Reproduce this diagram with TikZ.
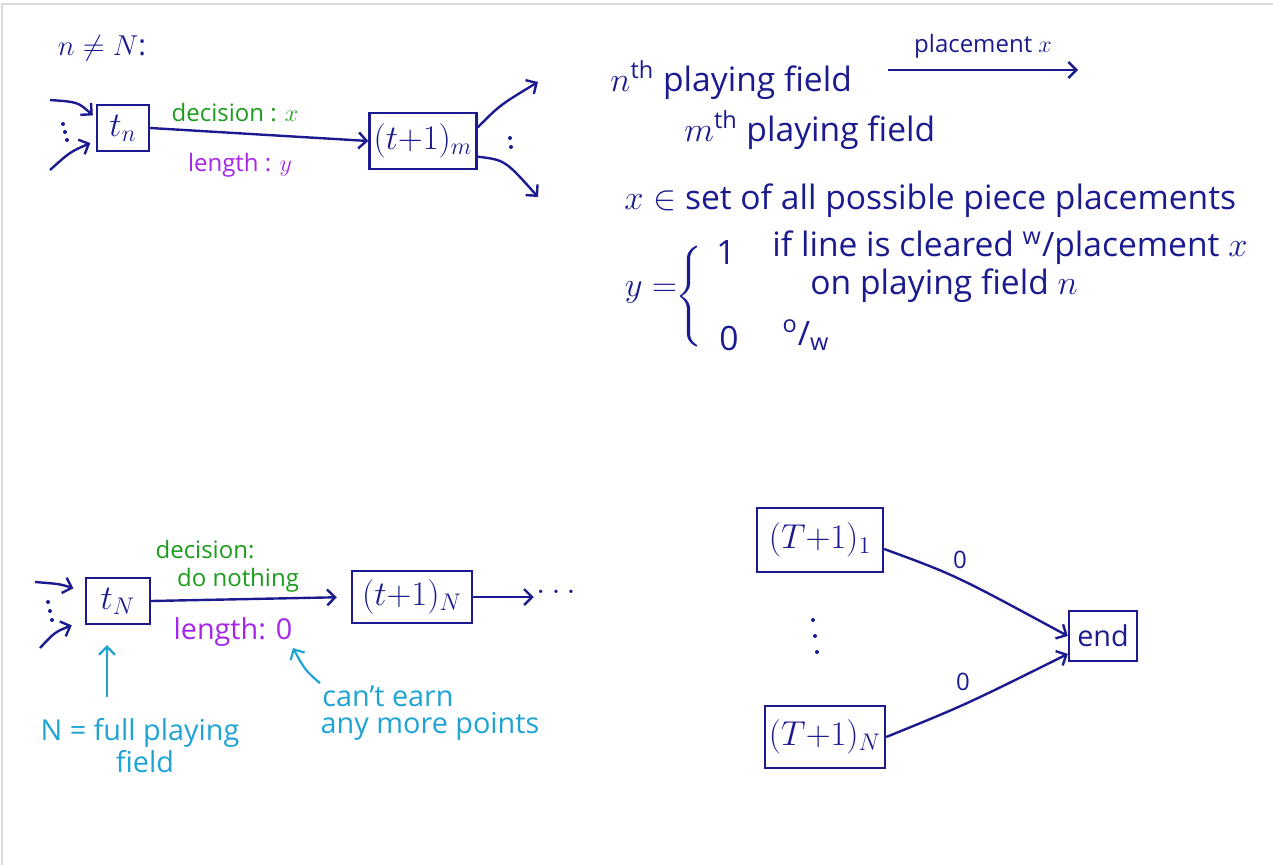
\documentclass[tikz,border=0pt]{standalone}
\usepackage{amsmath, amssymb}
\usepackage{fontspec}
\setmainfont{Open Sans}
\usepackage{tikz}
\usetikzlibrary{arrows.meta, calc, positioning}

\definecolor{ink}{HTML}{1B1B8F}
\definecolor{inkgreen}{HTML}{1C9C1C}
\definecolor{inkpurple}{HTML}{A526E8}
\definecolor{inkcyan}{HTML}{1FA3D3}

\newcommand{\notesize}{\fontsize{16.8}{20}\selectfont}

\tikzset{
  state/.style={draw=ink, line width=1.2pt, inner sep=2pt, text=ink, font=\LARGE},
  note/.style={text=ink, font=\notesize, inner sep=1pt},
  remark/.style={text=inkcyan, font=\Large, inner sep=1pt},
  pen/.style={ink, line width=1.2pt, -{Straight Barb[length=4pt, width=8pt]}},
  cpen/.style={inkcyan, line width=1.1pt, -{Straight Barb[length=4pt, width=8pt]}},
  dotmark/.style={fill=ink},
}

\begin{document}
\begin{tikzpicture}[x=0.5pt, y=-0.5pt]
  \useasboundingbox (0,0) rectangle (1273,865);
  \draw[black!15, line width=0.8pt] (1273,4) -- (2,4) -- (2,865);

  % case n /= N
  \node[text=ink, font=\Large] (cond) at (102,48) {$n \neq N$:};
  \node[state, minimum width=26pt, minimum height=23pt] (tn) at (123,128) {$t_n$};
  \node[state, minimum width=53pt, minimum height=28pt] (tm) at (423,141) {$(t{+}1)_m$};
  \draw[pen] (tn.east) -- (tm.west);
  \node[text=inkgreen, font=\large] (dec) at (235,113) {decision : $x$};
  \node[text=inkpurple, font=\large] (len) at (240,165) {length : $y$};
  \coordinate (inA) at (50,100);
  \coordinate (inB) at (50,170);
  \draw[pen, shorten >=2pt] (inA) .. controls (78,102) .. (tn.160);
  \draw[pen, shorten >=3pt] (inB) .. controls (70,152) .. (tn.205);
  \foreach \d in {0,1,2} \fill[dotmark] (63+2*\d,124+8*\d) circle (1pt);
  \coordinate (outA) at (538,82);
  \coordinate (outB) at (538,197);
  \draw[pen] (tm.14) .. controls (500,105) .. (outA);
  \draw[pen] (tm.-16) .. controls (505,160) .. (outB);
  \foreach \d in {0,1} \fill[dotmark] (510+\d,138+9*\d) circle (1pt);

  % notation
  \node[note, anchor=west] (nfield) at (608,80) {$n^{\text{th}}$ playing field};
  \coordinate (pA) at (888,70);
  \coordinate (pB) at (1078,70);
  \draw[pen] (pA) -- node[above=2pt, text=ink, font=\large] (plabel) {placement $x$} (pB);
  \node[note, anchor=west] (mfield) at (682,130) {$m^{\text{th}}$ playing field};
  \node[note, anchor=west] (xset) at (622,201) {$x \in$ set of all possible piece placements};
  \node[note] (yeq) at (651,292) {$y =$};
  \node[note, inner sep=0pt] (brace) at (690,298) {$\left\{\rule[-22pt]{0pt}{44pt}\right.$};
  \node[note] (one) at (726,253) {1};
  \node[note, anchor=west] (onetxt) at (770,248) {if line is cleared \textsuperscript{w}/placement $x$};
  \node[note, anchor=west] (ontxt) at (808,286) {on playing field $n$};
  \node[note] (zero) at (729,338) {0};
  \node[note] (ow) at (806,335) {\textsuperscript{o}/\textsubscript{w}};

  % case n = N
  \node[state, minimum width=32pt, minimum height=23pt] (tN) at (118,601) {$t_N$};
  \node[state, minimum width=60pt, minimum height=26pt] (tN1) at (412,597) {$(t{+}1)_N$};
  \draw[pen, shorten >=7pt] (tN.east) -- (tN1.west);
  \node[text=inkgreen, font=\large] (dec2) at (205,550) {decision:};
  \node[text=inkgreen, font=\large] (dec3) at (238,580) {do nothing};
  \node[text=inkpurple, font=\Large] (len2) at (233,632) {length: 0};
  \node[note] (more) at (556,592) {$\ldots$};
  \draw[pen] (tN1.east) -- (more.west |- tN1.east);
  \coordinate (inC) at (35,582);
  \coordinate (inD) at (40,648);
  \draw[pen, shorten >=6pt] (inC) .. controls (60,584) .. (tN.165);
  \draw[pen, shorten >=7pt] (inD) .. controls (55,632) .. (tN.210);
  \foreach \d in {0,1,2} \fill[dotmark] (48+2*\d,602+9*\d) circle (1pt);

  \node[remark] (Nfull) at (140,733) {N = full playing};
  \node[remark] (Nfield) at (145,762) {field};
  \coordinate (Ntail) at (107,697);
  \draw[cpen, shorten >=10pt] (Ntail) -- (Ntail |- tN.south);
  \node[remark] (can) at (388,696) {can't earn};
  \node[remark] (anymore) at (430,726) {any more points};
  \coordinate (zeroTip) at (293,648);
  \draw[cpen] (can.north west) .. controls (305,670) .. (zeroTip);

  % terminal stage
  \node[state, minimum width=63pt, minimum height=32pt] (T1) at (820,540) {$(T{+}1)_1$};
  \node[state, minimum width=55pt, minimum height=31pt] (TN) at (825,737) {$(T{+}1)_N$};
  \node[state, font=\Large, minimum width=34pt, minimum height=25pt] (finish) at (1103,636) {end};
  \foreach \d in {0,1,2} \fill[dotmark] (813+2*\d,620+16*\d) circle (1pt);
  \draw[pen] (T1.-8) .. controls (955,575) .. (finish.west);
  \draw[pen] (TN.east) .. controls (965,705) .. (finish.207);
  \node[text=ink, font=\large] (w1) at (960,560) {0};
  \node[text=ink, font=\large] (w2) at (963,682) {0};
\end{tikzpicture}
\end{document}
